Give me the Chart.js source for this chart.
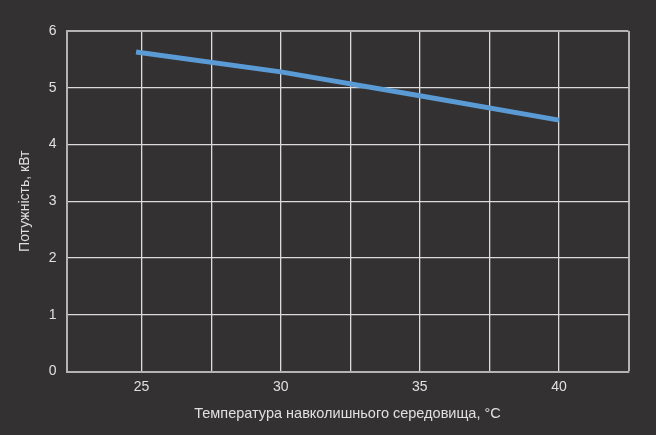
<!DOCTYPE html>
<html>
<head>
<meta charset="utf-8">
<script src="https://cdn.jsdelivr.net/npm/chart.js@4/dist/chart.umd.min.js"></script>
<style>
  html, body { margin: 0; padding: 0; background: #333132; }
  #wrap { width: 656px; height: 435px; }
</style>
</head>
<body>
<div id="wrap"><canvas id="c" width="656" height="435"></canvas></div>
<script>
// Data
const temperatures = [24.8, 30, 35, 40];          // °C
const power = [5.63, 5.28, 4.86, 4.43];           // kW
const xGridValues = [25, 27.5, 30, 32.5, 35, 37.5, 40, 42.5];
const xTickLabels = [25, 30, 35, 40];
const xMin = 22.3, xMax = 42.5;
const yMin = 0, yMax = 6, yStep = 1;
const xTitle = 'Температура навколишнього середовища, °С';
const yTitle = 'Потужність, кВт';

const BG = '#333132';
const GRID = '#dcdcdc';
const FRAME = '#b4b4b4';
const TEXT = '#e0e0e0';
const FONT = 'Liberation Sans, Arial, sans-serif';

const bgPlugin = {
  id: 'bg',
  beforeDraw(chart) {
    const ctx = chart.ctx;
    ctx.save();
    ctx.fillStyle = BG;
    ctx.fillRect(0, 0, chart.width, chart.height);
    ctx.restore();
  }
};

new Chart(document.getElementById('c'), {
  type: 'line',
  data: {
    datasets: [{
      data: temperatures.map((t, i) => ({ x: t, y: power[i] })),
      borderColor: '#5b9bd5',
      borderWidth: 5,
      pointRadius: 0,
      tension: 0,
      fill: false,
      borderCapStyle: 'butt'
    }]
  },
  options: {
    responsive: false,
    animation: false,
    devicePixelRatio: 1,
    layout: { padding: { left: 0, right: 27.5, top: 31, bottom: 0 } },
    plugins: { legend: { display: false }, tooltip: { enabled: false } },
    scales: {
      x: {
        type: 'linear',
        min: xMin, max: xMax,
        afterBuildTicks(scale) { scale.ticks = xGridValues.map(v => ({ value: v })); },
        afterFit(scale) { scale.height = 63.5; },
        grid: {
          drawTicks: false,
          color: ctx => (ctx.tick && ctx.tick.value === xMax) ? FRAME : GRID,
          lineWidth: ctx => (ctx.tick && ctx.tick.value === xMax) ? 2 : 1.3
        },
        border: { display: true, color: FRAME, width: 2 },
        ticks: {
          color: TEXT,
          font: { family: FONT, size: 14 },
          padding: 7,
          autoSkip: false,
          maxRotation: 0,
          callback: v => xTickLabels.includes(v) ? String(v) : ''
        },
        title: {
          display: true, text: xTitle, color: TEXT,
          font: { family: FONT, size: 14.5 },
          padding: { top: 0, bottom: 12 }
        }
      },
      y: {
        min: yMin, max: yMax,
        afterFit(scale) { scale.width = 66.5; },
        grid: {
          drawTicks: false,
          color: ctx => (ctx.tick && ctx.tick.value === yMax) ? FRAME : GRID,
          lineWidth: ctx => (ctx.tick && ctx.tick.value === yMax) ? 2 : 1.3
        },
        border: { display: true, color: FRAME, width: 2 },
        ticks: {
          stepSize: yStep,
          color: TEXT,
          font: { family: FONT, size: 14 },
          padding: 10
        },
        title: {
          display: true, text: yTitle, color: TEXT,
          font: { family: FONT, size: 14 },
          padding: { top: 17, bottom: 0 }
        }
      }
    }
  },
  plugins: [bgPlugin]
});
</script>
</body>
</html>
